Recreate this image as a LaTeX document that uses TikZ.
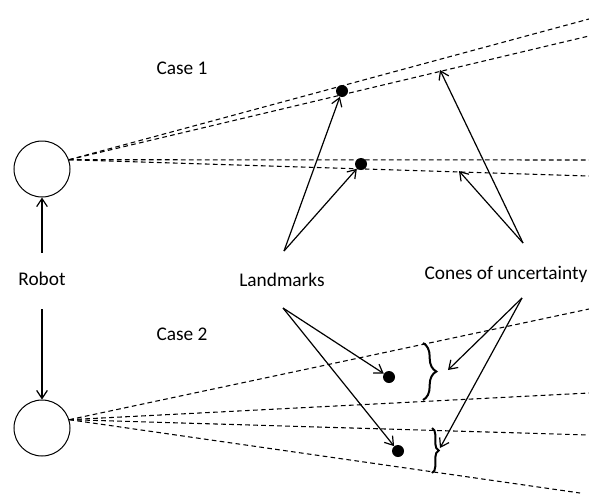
\documentclass[tikz,border=0pt]{standalone}
\usepackage{fontspec}
\setmainfont{Carlito}
\usetikzlibrary{arrows.meta,decorations.pathreplacing}
\begin{document}
\begin{tikzpicture}[x=0.75pt,y=-0.75pt,
  robotc/.style={circle,draw,line width=0.75pt,minimum size=42pt,inner sep=0pt},
  lmdot/.style={circle,fill,minimum size=9pt,inner sep=0pt},
  ray/.style={dash pattern=on 3.5pt off 2.5pt,line width=0.8pt},
  arr/.style={-{Straight Barb[length=6pt,width=8pt]},line width=0.9pt},
  lbl/.style={font=\fontsize{14.5}{16}\selectfont},
  brc/.style={decorate,decoration={brace,amplitude=#1},line width=1.5pt},
]
\useasboundingbox (0,0) rectangle (589,493);

% robots
\node[robotc] (r1) at (42,169) {};
\node[robotc] (r2) at (42,428) {};
\node[lbl,text height=10pt,text depth=3pt,inner ysep=14.5pt] (robot) at (42,281) {Robot};
\draw[arr] (robot) -- (r1);
\draw[arr] (robot) -- (r2);

% labels
\node[lbl] (case1) at (182,68) {Case 1};
\node[lbl] (case2) at (182,334) {Case 2};
\node[lbl] (lm) at (282,280) {Landmarks};
\node[lbl] (cu) at (506,274) {Cones of uncertainty};

% rays case 1
\coordinate (o1) at (r1.19);
\coordinate (ea) at (589,19);
\coordinate (eb) at (589,36);
\coordinate (ec) at (589,160);
\coordinate (ed) at (589,176);
\draw[ray] (o1) -- (ea);
\draw[ray] (o1) -- (eb);
\draw[ray] (o1) -- (ec);
\draw[ray] (o1) -- (ed);

% rays case 2
\coordinate (o2) at (r2.17);
\coordinate (ee) at (589,309);
\coordinate (ef) at (589,393);
\coordinate (eg) at (589,435);
\coordinate (eh) at (580,493);
\draw[ray] (o2) -- (ee);
\draw[ray] (o2) -- (ef);
\draw[ray] (o2) -- (eg);
\draw[ray] (o2) -- (eh);

% landmarks
\node[lmdot] (d1) at (342,91) {};
\node[lmdot] (d2) at (361,164) {};
\node[lmdot] (d3) at (389,377) {};
\node[lmdot] (d4) at (398,451) {};

% braces
\coordinate (b1t) at (423,343);
\coordinate (b1b) at (423,400);
\coordinate (b2t) at (432,428);
\coordinate (b2b) at (432,473);
\draw[brc=10pt] (b1t) -- (b1b);
\draw[brc=5pt] (b2t) -- (b2b);

% arrow start/end points
\coordinate (lu) at (284,251);
\coordinate (ll) at (283,308);
\coordinate (cuu) at (523,243);
\coordinate (cul) at (522,298);
\coordinate (tb) at (440,70);
\coordinate (td) at (459,171);
\coordinate (tb1) at (448,370);
\coordinate (tb2) at (440,448);

\draw[arr] (lu) -- (d1);
\draw[arr] (lu) -- (d2);
\draw[arr] (ll) -- (d3);
\draw[arr] (ll) -- (d4);
\draw[arr] (cuu) -- (tb);
\draw[arr] (cuu) -- (td);
\draw[arr] (cul) -- (tb1);
\draw[arr] (cul) -- (tb2);
\end{tikzpicture}
\end{document}
